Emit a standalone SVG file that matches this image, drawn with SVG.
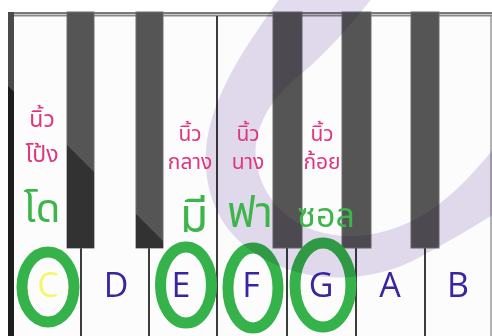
<svg xmlns="http://www.w3.org/2000/svg" width="492" height="336" viewBox="0 0 492 336">
  <style>
    .wk { fill: #fcfcfd; }
    .div { stroke: #3c3c3c; stroke-width: 2; }
    .bk { fill: #555555; stroke: #6c6c6c; stroke-width: 1; }
    .shade { fill: #323232; }
    .ring { fill: none; stroke: #35b24a; stroke-width: 11; }
    .finger { font-family: "Noto Sans Thai", "Noto Sans", "DejaVu Sans", sans-serif; fill: #e0357f; text-anchor: middle; }
    .note { font-family: "Noto Sans Thai", "Noto Sans", "DejaVu Sans", sans-serif; fill: #3cb54a; text-anchor: middle; }
    .key { font-family: "Open Sans", "Liberation Sans", sans-serif; font-size: 34px; fill: #3a24a0; text-anchor: middle; }
    .band { fill: #e3dcee; mix-blend-mode: multiply; }
  </style>
  <rect x="0" y="0" width="492" height="336" fill="#ffffff"/>
  <g id="keyboard">
    <rect class="wk" x="14" y="16" width="478" height="320"/>
    <rect x="8" y="12" width="484" height="2" fill="#7a7a7a"/>
    <rect x="8" y="14" width="484" height="1" fill="#c8c8c8"/>
    <rect x="8" y="15" width="484" height="1.5" fill="#8a8a8a"/>
    <rect x="8" y="12" width="6" height="324" fill="#4a4a4a"/>
    <polygon points="8,86 14,92 14,336 8,336" fill="#1e1e1e"/>
  </g>
  <g id="dividers">
    <line class="div" x1="81" y1="16" x2="81" y2="336"/>
    <line class="div" x1="149" y1="16" x2="149" y2="336"/>
    <line class="div" x1="217" y1="16" x2="217" y2="336"/>
    <line class="div" x1="287" y1="16" x2="287" y2="336"/>
    <line class="div" x1="356" y1="16" x2="356" y2="336"/>
    <line class="div" x1="425" y1="16" x2="425" y2="336"/>
    <line x1="491" y1="16" x2="491" y2="336" stroke="#9a9a9a" stroke-width="1.5"/>
  </g>
  <g id="black-keys">
    <rect class="bk" x="67" y="12" width="27" height="236"/>
    <polygon class="shade" points="67,145 94,172 94,248 67,248"/>
    <rect class="bk" x="136" y="12" width="27" height="236"/>
    <polygon class="shade" points="136,214 163,241 163,248 136,248"/>
    <rect class="bk" x="273" y="12" width="29" height="236"/>
    <rect class="bk" x="342" y="12" width="29" height="236"/>
    <rect class="bk" x="411" y="12" width="28" height="236"/>
  </g>
  <g id="rings">
    <ellipse id="ring-c" class="ring" cx="48" cy="287" rx="26" ry="35"/>
    <ellipse id="ring-e" class="ring" cx="186" cy="285" rx="25.5" ry="38"/>
    <ellipse id="ring-f" class="ring" cx="253" cy="288" rx="25" ry="40"/>
    <ellipse id="ring-g" class="ring" cx="323" cy="285" rx="28" ry="42"/>
  </g>
  <path id="swoosh" class="band" d="M280,-2 C250,40 210,95 206,150 C203,200 225,240 270,262 C310,282 370,285 420,257 C450,241 475,226 494,214 L494,148 C460,190 420,232 355,236 C300,238 262,205 256,160 C252,125 275,95 300,75 C330,50 355,20 372,-2 Z"/>
  <g id="finger-labels">
    <g id="thumb"><text class="finger" x="42" y="127" font-size="23">นิ้ว</text><text class="finger" x="42" y="162" font-size="23">โป้ง</text></g>
    <g id="middle"><text class="finger" x="190" y="141" font-size="21">นิ้ว</text><text class="finger" x="190" y="169" font-size="21">กลาง</text></g>
    <g id="ring"><text class="finger" x="248" y="141" font-size="21">นิ้ว</text><text class="finger" x="248" y="169" font-size="21">นาง</text></g>
    <g id="little"><text class="finger" x="322" y="141" font-size="21">นิ้ว</text><text class="finger" x="322" y="169" font-size="21">ก้อย</text></g>
  </g>
  <g id="note-names">
    <text id="do" class="note" x="42" y="222" font-size="40">โด</text>
    <text id="mi" class="note" x="194" y="232" font-size="46">มี</text>
    <text id="fa" class="note" x="250" y="227" font-size="42">ฟา</text>
    <text id="sol" class="note" x="326" y="227" font-size="34">ซอล</text>
  </g>
  <g id="key-letters">
    <text class="key" x="48" y="297" style="fill:#f7f56a">C</text>
    <text class="key" x="116" y="297">D</text>
    <text class="key" x="181" y="297">E</text>
    <text class="key" x="251" y="297">F</text>
    <text class="key" x="321" y="297">G</text>
    <text class="key" x="390" y="297">A</text>
    <text class="key" x="458" y="297">B</text>
  </g>
</svg>
